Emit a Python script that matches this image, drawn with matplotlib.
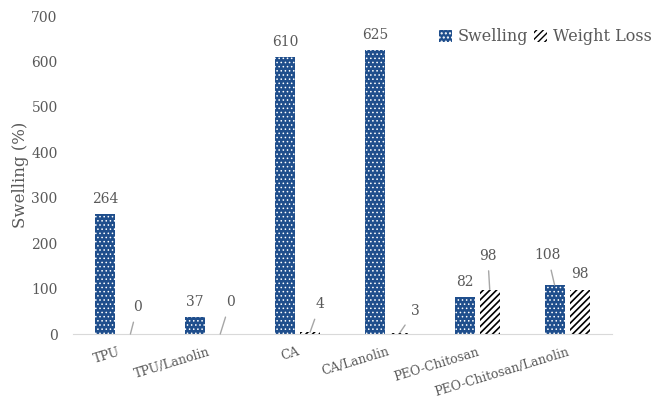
import matplotlib
matplotlib.use("Agg")
import matplotlib.pyplot as plt
from matplotlib.patches import Patch
import numpy as np

categories = ["TPU", "TPU/Lanolin", "CA", "CA/Lanolin", "PEO-Chitosan", "PEO-Chitosan/Lanolin"]
swelling = [264, 37, 610, 625, 82, 108]
weight_loss = [0, 0, 4, 3, 98, 98]

# label offsets (pixels) for the labels that carry a leader line: (series, index, dx, dy)
leader_labels = [
    ("wl", 0, 7, -27),
    ("wl", 1, 10, -32),
    ("wl", 2, 10, -28),
    ("wl", 3, 15, -22),
    ("wl", 4, -2, -34),
    ("sw", 5, -7, -30),
]

BLUE = "#1F4E8C"
GREY = "#595959"
LINE = "#A6A6A6"
SERIF = "DejaVu Serif"
DOTS = "...."
STRIPES = "/////"

fig = plt.figure(figsize=(6.66, 4.01), dpi=100)
ax = fig.add_axes([0.1096, 0.167, 0.8093, 0.793])

x = np.arange(len(categories))
w = 0.223
off = 0.139

# hatch line width is picked up when each patch is made
with plt.rc_context({"hatch.linewidth": 0.6}):
    ax.bar(x - off, swelling, w, color=BLUE, edgecolor="white", linewidth=0, hatch=DOTS)
    dot_handle = Patch(facecolor=BLUE, edgecolor="white", linewidth=0, hatch=DOTS, label="Swelling")
with plt.rc_context({"hatch.linewidth": 1.2}):
    ax.bar(x + off, weight_loss, w, color="white", edgecolor="black", linewidth=0, hatch=STRIPES)
    stripe_handle = Patch(facecolor="white", edgecolor="black", linewidth=0, hatch=STRIPES,
                          label="Weight Loss")

ax.set_xlim(-0.5, 5.5)
ax.set_ylim(0, 700)
ax.set_yticks(range(0, 701, 100))
for s in ["top", "right", "left"]:
    ax.spines[s].set_visible(False)
ax.spines["bottom"].set_color("#D9D9D9")
ax.tick_params(axis="both", length=0, colors=GREY, labelsize=10)
ax.tick_params(axis="y", pad=11)
for t in ax.get_yticklabels():
    t.set_fontfamily(SERIF)

ax.set_xticks(x)
ax.set_xticklabels(categories, rotation=17, ha="right", va="top",
                   rotation_mode="anchor", fontfamily=SERIF, fontsize=9, color=GREY)
ax.tick_params(axis="x", pad=8)

ax.set_ylabel("Swelling (%)", fontfamily=SERIF, fontsize=12, color=GREY, labelpad=2)

# plain value labels above bars
leader_keys = {(s, i) for s, i, _, _ in leader_labels}
for i, v in enumerate(swelling):
    if ("sw", i) in leader_keys:
        continue
    ax.annotate(str(v), (x[i] - off, v), xytext=(0, 11), textcoords="offset points",
                ha="center", va="center", fontfamily=SERIF, fontsize=10, color=GREY)
for i, v in enumerate(weight_loss):
    if ("wl", i) in leader_keys:
        continue
    ax.annotate(str(v), (x[i] + off, v), xytext=(0, 11), textcoords="offset points",
                ha="center", va="center", fontfamily=SERIF, fontsize=10, color=GREY)

# labels pulled away from their bars with a leader line
for s, i, dx, dy in leader_labels:
    v = swelling[i] if s == "sw" else weight_loss[i]
    xi = x[i] - off if s == "sw" else x[i] + off
    ax.annotate(str(v), (xi, v), xytext=(dx * 0.72, -dy * 0.72), textcoords="offset points",
                ha="center", va="center", fontfamily=SERIF, fontsize=10, color=GREY,
                arrowprops=dict(arrowstyle="-", color=LINE, lw=1, shrinkA=4, shrinkB=0))

leg = fig.legend(handles=[dot_handle, stripe_handle], loc="upper right",
                 bbox_to_anchor=(1.0, 0.965), ncol=2, frameon=False,
                 handlelength=0.8, handleheight=0.8, handletextpad=0.35, columnspacing=0.4,
                 prop={"family": SERIF, "size": 11.5})
for t in leg.get_texts():
    t.set_color(GREY)

fig.savefig("out.png", dpi=100)
